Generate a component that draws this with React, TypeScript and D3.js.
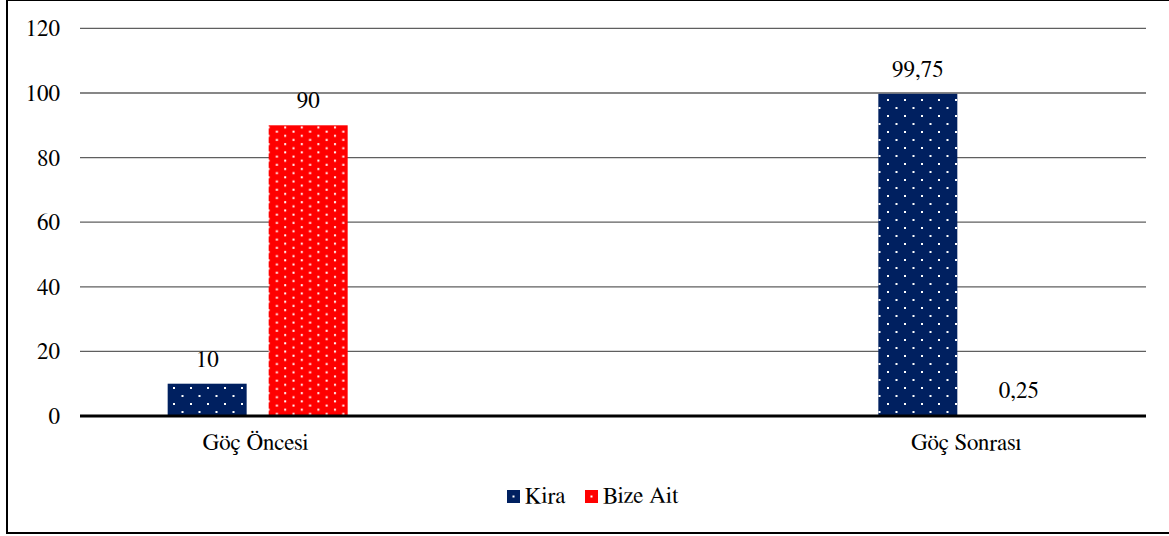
import React from 'react';
import * as d3 from 'd3';

const categories = ['Göç Öncesi', 'Göç Sonrası'];
const seriesNames = ['Kira', 'Bize Ait'];
const kiraValues = [10, 99.75];
const bizeAitValues = [90, 0.25];
const yTicks = [0, 20, 40, 60, 80, 100, 120];

const W = 1169;
const H = 536;
const left = 80;
const right = 1146;
const top = 28.4;
const bottom = 416;
const colors: Record<string, string> = { Kira: '#002060', 'Bize Ait': '#FF0000' };
const patterns: Record<string, string> = { Kira: 'dotsNavy', 'Bize Ait': 'dotsRed' };

const fmt = (v: number) => String(v).replace('.', ',');

type LabelProps = {
  x: number;
  y: number;
  anchor?: 'start' | 'middle' | 'end';
  dy?: string;
  children: React.ReactNode;
};

const Label: React.FC<LabelProps> = ({ x, y, anchor = 'start', dy, children }) => (
  <text
    x={x}
    y={y}
    dy={dy}
    textAnchor={anchor}
    fill="#000"
    style={{ fontFamily: "'FreeSerif'", fontSize: '23px' }}
  >
    {children}
  </text>
);

export default function App() {
  const y = d3.scaleLinear().domain([0, 120]).range([bottom, top]);
  const x0 = d3.scalePoint<string>().domain(categories).range([left, right]).padding(0.25);
  const x1 = d3.scaleBand<string>().domain(seriesNames).range([-90, 90]).paddingInner(0.218);

  const series = [
    { name: 'Kira', values: kiraValues },
    { name: 'Bize Ait', values: bizeAitValues },
  ];

  return (
    <svg width={W} height={H} style={{ position: 'absolute', left: 0, top: 0, background: '#fff' }}>
      <defs>
        <pattern id="dotsNavy" width={17} height={16} patternUnits="userSpaceOnUse">
          <rect width={17} height={16} fill={colors.Kira} />
          <rect x={3} y={3} width={2} height={2} fill="#fff" />
          <rect x={11.5} y={11} width={2} height={2} fill="#fff" />
        </pattern>
        <pattern id="dotsRed" width={16.6} height={8.3} patternUnits="userSpaceOnUse">
          <rect width={16.6} height={8.3} fill={colors['Bize Ait']} />
          <rect x={2} y={2} width={2} height={2} fill="#fff" />
          <rect x={10.3} y={6.15} width={2} height={2} fill="#fff" />
        </pattern>
      </defs>

      <rect x={7} y={0} width={W + 10} height={533} fill="none" stroke="#000" strokeWidth={2} />

      {yTicks.map(t => (
        <g key={t}>
          {t !== 0 && (
            <line x1={left} x2={right} y1={y(t)} y2={y(t)} stroke="#5f5f5f" strokeWidth={1.3} />
          )}
          <Label x={60} y={y(t)} dy="0.35em" anchor="end">
            {t}
          </Label>
        </g>
      ))}

      {series.map(s =>
        s.values.map((v, i) => {
          const cx = (x0(categories[i]) ?? 0) + (x1(s.name) ?? 0);
          return (
            <g key={s.name + i}>
              <rect
                x={cx}
                y={y(v)}
                width={x1.bandwidth()}
                height={bottom - y(v)}
                fill={`url(#${patterns[s.name]})`}
              />
              <Label x={cx + x1.bandwidth() / 2} y={y(v) - 17} anchor="middle">
                {fmt(v)}
              </Label>
            </g>
          );
        })
      )}

      <line x1={left} x2={right} y1={bottom} y2={bottom} stroke="#000" strokeWidth={3} />

      {categories.map(c => (
        <Label key={c} x={(x0(c) ?? 0) - 2} y={450} anchor="middle">
          {c}
        </Label>
      ))}

      <rect x={507} y={490} width={13} height={13} fill={colors.Kira} />
      <rect x={512.5} y={495.5} width={2} height={2} fill="#fff" />
      <Label x={525} y={503}>Kira</Label>
      <rect x={585} y={490} width={13} height={13} fill={colors['Bize Ait']} />
      <rect x={590.5} y={495.5} width={2} height={2} fill="#fff" />
      <Label x={603} y={503}>Bize Ait</Label>
    </svg>
  );
}
